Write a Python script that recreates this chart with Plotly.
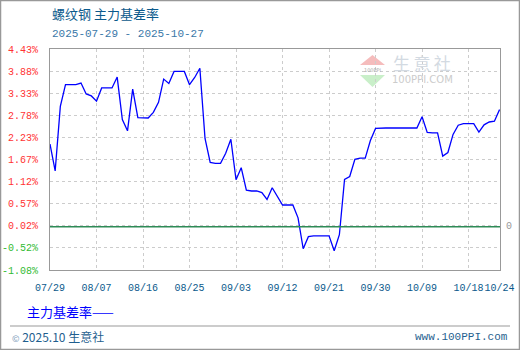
import pandas as pd
import plotly.graph_objects as go

# ---------------- data ----------------
start_date = "2025-07-29"
basis_rate = [
    2.06, 1.39, 3.00, 3.54, 3.54, 3.54, 3.58, 3.31, 3.26, 3.13,
    3.46, 3.46, 3.46, 3.73, 2.67, 2.39, 3.43, 2.72, 2.71, 2.71,
    2.85, 3.10, 3.68, 3.57, 3.87, 3.87, 3.87, 3.54, 3.72, 3.95,
    2.20, 1.60, 1.58, 1.58, 1.83, 2.18, 1.17, 1.47, 0.91, 0.89,
    0.89, 0.85, 0.68, 0.97, 0.74, 0.54, 0.54, 0.54, 0.22, -0.55,
    -0.25, -0.23, -0.23, -0.23, -0.23, -0.60, -0.20, 1.18, 1.25, 1.68,
    1.71, 1.71, 2.15, 2.45, 2.46, 2.46, 2.46, 2.46, 2.46, 2.46,
    2.46, 2.46, 2.74, 2.35, 2.34, 2.34, 1.76, 1.85, 2.30, 2.53,
    2.57, 2.57, 2.57, 2.36, 2.54, 2.61, 2.63, 2.92,
]
dates = pd.date_range(start_date, periods=len(basis_rate), freq="D")

x_tick_dates = ["2025-07-29", "2025-08-07", "2025-08-16", "2025-08-25", "2025-09-03",
                "2025-09-12", "2025-09-21", "2025-09-30", "2025-10-09", "2025-10-18",
                "2025-10-24"]
x_tick_labels = ["07/29", "08/07", "08/16", "08/25", "09/03", "09/12", "09/21",
                 "09/30", "10/09", "10/18", "10/24"]
y_tick_values = [4.43, 3.88, 3.33, 2.78, 2.23, 1.67, 1.12, 0.57, 0.02, -0.52, -1.08]
y_tick_labels = ["4.43%", "3.88%", "3.33%", "2.78%", "2.23%", "1.67%", "1.12%",
                 "0.57%", "0.02%", "-0.52%", "-1.08%"]

title_text = "螺纹钢 主力基差率"
date_text = "2025-07-29 - 2025-10-27"
series_name = "主力基差率"

# ---------------- layout constants ----------------
W, H = 520, 350
ML, MR, MT, MB = 50, 20, 49, 80
PW, PH = W - ML - MR, H - MT - MB


def px(x):
    return (x - ML) / PW


def py(y):
    return (H - MB - y) / PH


CJK = "Noto Sans CJK SC"
MONO = "Liberation Mono"

ytext = []
for lbl, v in zip(y_tick_labels, y_tick_values):
    col = "#ff3333" if v >= 0 else "#33bb33"
    pad = "\u00a0" if not lbl.startswith("-") else ""
    ytext.append(f'<span style="color:{col}">{pad}{lbl}</span>')

fig = go.Figure()
fig.add_trace(go.Scatter(
    x=dates, y=basis_rate, mode="lines", name=series_name,
    line=dict(color="#0000ff", width=1.3), hoverinfo="skip", showlegend=False,
))

fig.update_layout(
    width=W, height=H,
    margin=dict(l=ML, r=MR, t=MT, b=MB, autoexpand=False),
    paper_bgcolor="white", plot_bgcolor="white",
    hovermode=False,
    xaxis=dict(
        type="date",
        range=["2025-07-29", "2025-10-24 02:00"],
        tickvals=x_tick_dates, ticktext=x_tick_labels, tickangle=0,
        tickfont=dict(family=MONO, size=10, color="#0b5a8c"),
        showgrid=True, gridcolor="#cccccc", griddash="3px,3px", gridwidth=1,
        showline=True, linecolor="#999999", linewidth=1, mirror=True,
        ticks="", ticklabelstandoff=8, zeroline=False, automargin=False,
    ),
    yaxis=dict(
        range=[-1.08, 4.43],
        tickvals=y_tick_values, ticktext=ytext,
        tickfont=dict(family=MONO, size=10),
        showgrid=True, gridcolor="#cccccc", griddash="3px,3px", gridwidth=1,
        showline=True, linecolor="#999999", linewidth=1, mirror=True,
        ticks="", ticklabelstandoff=9, zeroline=False, automargin=False,
    ),
)

# zero line
fig.add_shape(type="line", xref="paper", yref="y", x0=0, x1=1, y0=0, y1=0,
              line=dict(color="#2e8b57", width=1.5))

shapes = [
    # outer frame
    dict(type="rect", xref="paper", yref="paper", x0=px(0.5), x1=px(519.5),
         y0=py(349.5), y1=py(0.5), line=dict(color="#999999", width=1.5)),
    # footer separator
    dict(type="line", xref="paper", yref="paper", x0=px(10), x1=px(510),
         y0=py(326), y1=py(326), line=dict(color="#999999", width=1)),
    # watermark icon: red and green triangles
    dict(type="path", xref="paper", yref="paper",
         path=f"M {px(360)} {py(65)} L {px(372.5)} {py(55)} L {px(385)} {py(65)} Z",
         fillcolor="#f5bcbc", line=dict(width=0), layer="below"),
    dict(type="path", xref="paper", yref="paper",
         path=f"M {px(360)} {py(75)} L {px(372.5)} {py(87)} L {px(385)} {py(75)} Z",
         fillcolor="#c9efc9", line=dict(width=0), layer="below"),
]
for s in shapes:
    fig.add_shape(**s)

ann = [
    dict(x=px(50), y=py(14), text=title_text, xanchor="left", yanchor="middle",
         font=dict(family=CJK, size=13, color="#0b5a8c")),
    dict(x=px(50), y=py(34), text=date_text, xanchor="left", yanchor="middle",
         font=dict(family=MONO, size=11, color="#3a78a8")),
    dict(x=px(25), y=py(311.5), text=series_name + "——", xanchor="left", yanchor="middle",
         font=dict(family=CJK, size=13, color="#0000ff")),
    dict(x=px(10), y=py(336), text="<span style='font-size:9px;color:#7a9ab8'>©</span> 2025.10 生意社",
         xanchor="left", yanchor="middle",
         font=dict(family=CJK, size=12, color="#1f5f8f")),
    dict(x=px(510), y=py(337), text="www.100PPI.com", xanchor="right", yanchor="middle",
         font=dict(family=MONO, size=11, color="#1f5f8f")),
    dict(x=px(504), y=py(226), text="0", xanchor="left", yanchor="middle",
         font=dict(family=MONO, size=10, color="#999999")),
    # watermark text
    dict(x=px(422), y=py(62), text="生\u2009意\u2009社", xanchor="center", yanchor="middle",
         font=dict(family=CJK, size=17, color="#d3dae2")),
    dict(x=px(422), y=py(80), text="100PPI.COM", xanchor="center", yanchor="middle",
         font=dict(family="DejaVu Sans", size=10, color="#cccccc")),
    dict(x=px(372.5), y=py(70), text="100PPI", xanchor="center", yanchor="middle",
         font=dict(family="DejaVu Sans", size=5, color="#aaaaaa")),
]
for a in ann:
    fig.add_annotation(xref="paper", yref="paper", showarrow=False, **a)

fig.write_html("out.html", config={"displayModeBar": False})
